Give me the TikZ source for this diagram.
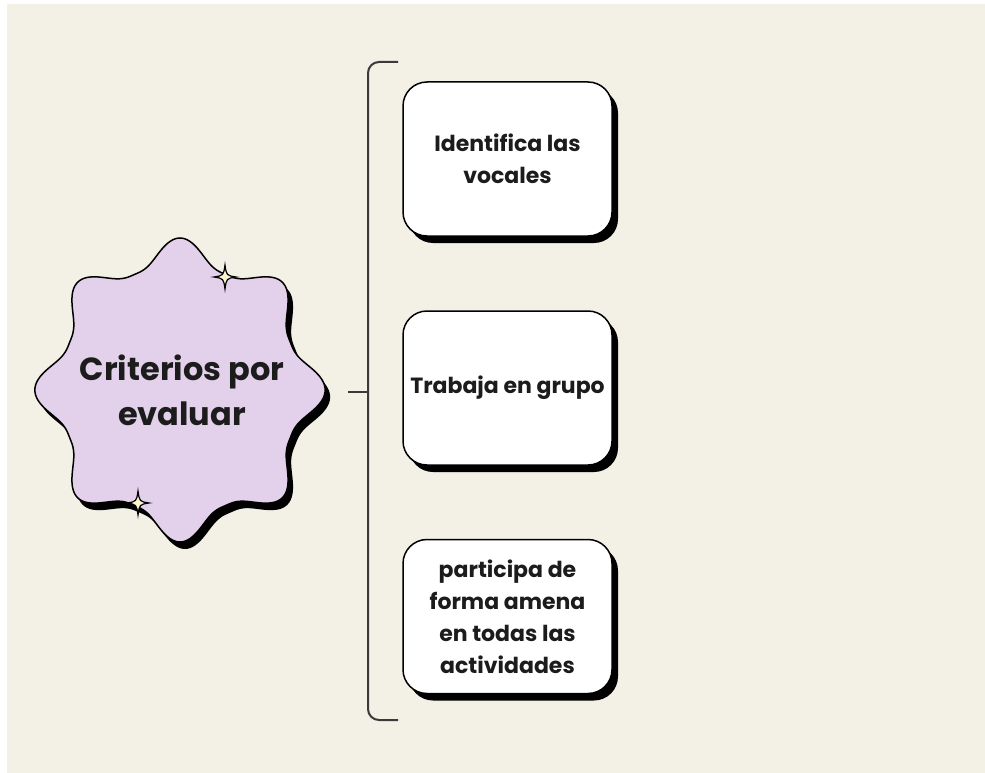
\documentclass[tikz,border=0pt]{standalone}
\usepackage{fontspec}
\setmainfont{Poppins}
\usetikzlibrary{shadows}
\definecolor{bg}{HTML}{F3F0E5}
\definecolor{lilac}{HTML}{E3D0EA}
\definecolor{spark}{HTML}{FBF6CF}
\definecolor{ink}{HTML}{1C1C1C}
\definecolor{bracketcol}{HTML}{3A3A3A}
\tikzset{
  itembox/.style={draw=black, line width=1.5pt, fill=white, rounded corners=24pt,
    minimum width=209pt, minimum height=154pt, align=center, text=ink,
    font=\fontsize{22}{32}\selectfont\bfseries,
    drop shadow={shadow xshift=6pt, shadow yshift=-7pt, fill=black, opacity=1}},
  bracketline/.style={draw=bracketcol, line width=2pt},
  blob/.style={fill=lilac, draw=black, line width=1.5pt},
  blobshadow/.style={fill=black},
  sparkle/.pic={\draw[fill=spark, line width=1.2pt, draw=black]
    (0,-12) .. controls (1.5,-1.5) .. (11,0) .. controls (1.5,1.5) .. (0,12)
    .. controls (-1.5,1.5) .. (-11,0) .. controls (-1.5,-1.5) .. cycle;}
}
\begin{document}
\begin{tikzpicture}[x=1pt, y=-1pt]
\useasboundingbox (0,0) rectangle (985,773);
\fill[white] (0,0) rectangle (985,773);
\fill[bg] (7,4) rectangle (985,773);

% wavy star
\fill[blobshadow] plot[domain=0:360, samples=361] ({185+0.955*(125+27*((1+cos(8*\x))/2)^1.5)*cos(\x)}, {397+(125+27*((1+cos(8*\x))/2)^1.5)*sin(\x)}) -- cycle;
\path[blob] plot[domain=0:360, samples=361] ({180+0.955*(125+27*((1+cos(8*\x))/2)^1.5)*cos(\x)}, {390+(125+27*((1+cos(8*\x))/2)^1.5)*sin(\x)}) -- cycle;
\node[text=ink, align=center, font=\fontsize{32}{45}\selectfont\bfseries] (crit) at (182,390) {Criterios por\\evaluar};
\pic at (225,277) {sparkle};
\pic at (138,503) {sparkle};

% bracket
\coordinate (btop) at (398,62);
\coordinate (bbot) at (398,720);
\coordinate (tickL) at (348,392);
\coordinate (tickR) at (368,392);
\draw[bracketline, rounded corners=11pt] (btop) -- (368,62) -- (368,720) -- (bbot);
\draw[bracketline] (tickL) -- (tickR);

% boxes
\node[itembox] (b1) at (507.5,159) {Identifica las\\vocales};
\node[itembox] (b2) at (507.5,388) {Trabaja en grupo};
\node[itembox] (b3) at (507.5,616.5) {participa de\\forma amena\\en todas las\\actividades};
\end{tikzpicture}
\end{document}
